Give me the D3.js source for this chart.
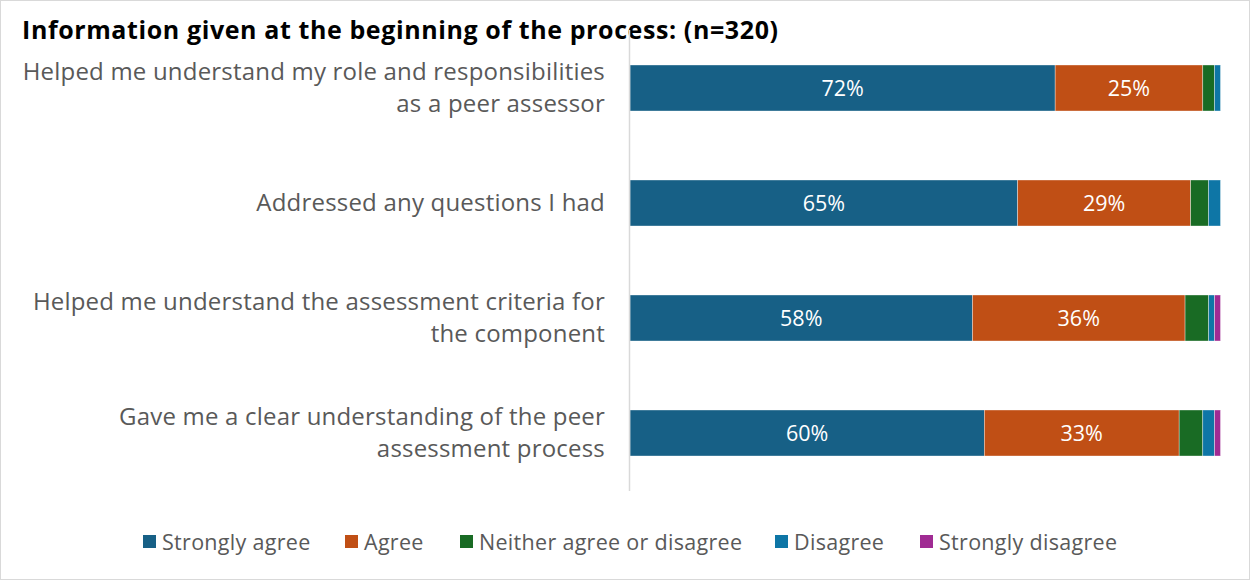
<!DOCTYPE html>
<html>
<head>
<meta charset="utf-8">
<script src="https://cdn.jsdelivr.net/npm/d3@7"></script>
<style>
  html, body { margin: 0; padding: 0; background: #fff; }
  svg { display: block; font-family: "Open Sans", "Noto Sans", sans-serif; }
</style>
</head>
<body>
<svg id="chart" width="1250" height="580"></svg>
<script>
// Survey statements (each line of a wrapped label is its own entry)
const categories = [
  ["Helped me understand my role and responsibilities", "as a peer assessor"],
  ["Addressed any questions I had"],
  ["Helped me understand the assessment criteria for", "the component"],
  ["Gave me a clear understanding of the peer", "assessment process"]
];
const responses = ["Strongly agree", "Agree", "Neither agree or disagree", "Disagree", "Strongly disagree"];

// Percent of respondents per answer, one array per response option
const stronglyAgree = [72, 65, 58, 60];
const agree         = [25, 29, 36, 33];
const neither       = [2, 3, 4, 4];
const disagree      = [1, 2, 1, 2];
const stronglyDis   = [0, 0, 1, 1];

const title = "Information given at the beginning of the process: (n=320)";
const colors = ["#176086", "#C04F15", "#196B24", "#0E76A6", "#A02B93"];

const series = [stronglyAgree, agree, neither, disagree, stronglyDis];
const rows = categories.map((c, i) => {
  const r = { key: i };
  responses.forEach((k, j) => r[k] = series[j][i]);
  return r;
});

const svg = d3.select("#chart");
const W = 1250, H = 580;

// Outer frame
svg.append("rect").attr("x", 0.5).attr("y", 0.5).attr("width", W - 1).attr("height", H - 1)
  .attr("fill", "#fff").attr("stroke", "#d9d9d9");

svg.append("text").attr("x", 22).attr("y", 39)
  .attr("font-size", 25).attr("font-weight", 700).attr("fill", "#000")
  .attr("letter-spacing", 0.6)
  .text(title);

const x = d3.scaleLinear().domain([0, 1]).range([630, 1220.5]);
const y = d3.scaleBand().domain(d3.range(categories.length)).range([30.5, 490.5])
  .paddingInner(0.6).paddingOuter(0.3);

// Stacked shares, each row normalised to its own total
const stack = d3.stack().keys(responses).offset(d3.stackOffsetExpand);
const layers = stack(rows);

const g = svg.append("g");
g.selectAll("g.layer").data(layers).join("g")
  .attr("class", "layer")
  .attr("fill", (d, i) => colors[i])
  .selectAll("rect").data(d => d).join("rect")
  .attr("x", d => x(d[0]))
  .attr("width", d => Math.max(0, x(d[1]) - x(d[0])))
  .attr("y", (d, i) => y(i))
  .attr("height", y.bandwidth())
  .attr("stroke", "#ffffff").attr("stroke-width", 0.6).attr("stroke-opacity", 0.6);

// Value labels on the two leading segments
layers.slice(0, 2).forEach((layer, li) => {
  g.selectAll(null).data(layer).join("text")
    .attr("x", d => (x(d[0]) + x(d[1])) / 2)
    .attr("y", (d, i) => y(i) + y.bandwidth() / 2)
    .attr("dy", "0.35em")
    .attr("text-anchor", "middle")
    .attr("font-size", 21.5).attr("fill", "#fff")
    .text((d, i) => series[li][i] + "%");
});

// Category axis
const axis = svg.append("g");
axis.append("line").attr("x1", 629.5).attr("x2", 629.5).attr("y1", 30).attr("y2", 491)
  .attr("stroke", "#d9d9d9").attr("stroke-width", 1.5);

categories.forEach((lines, i) => {
  const cy = y(i) + y.bandwidth() / 2;
  const lh = 32;
  const t = axis.append("text").attr("text-anchor", "end")
    .attr("font-size", 24).attr("letter-spacing", 0.2).attr("fill", "#595959");
  lines.forEach((ln, k) => {
    t.append("tspan").attr("x", 605)
      .attr("y", cy + (k - (lines.length - 1) / 2) * lh)
      .attr("dy", "0.35em").text(ln);
  });
});

// Legend
const legendX = [143, 345, 460, 775, 920];
const legend = svg.append("g");
responses.forEach((r, i) => {
  legend.append("rect").attr("x", legendX[i]).attr("y", 535).attr("width", 13).attr("height", 13)
    .attr("fill", colors[i]);
  legend.append("text").attr("x", legendX[i] + 19).attr("y", 542).attr("dy", "0.35em")
    .attr("font-size", 21.5).attr("letter-spacing", 0.3).attr("fill", "#595959").text(r);
});
</script>
</body>
</html>
